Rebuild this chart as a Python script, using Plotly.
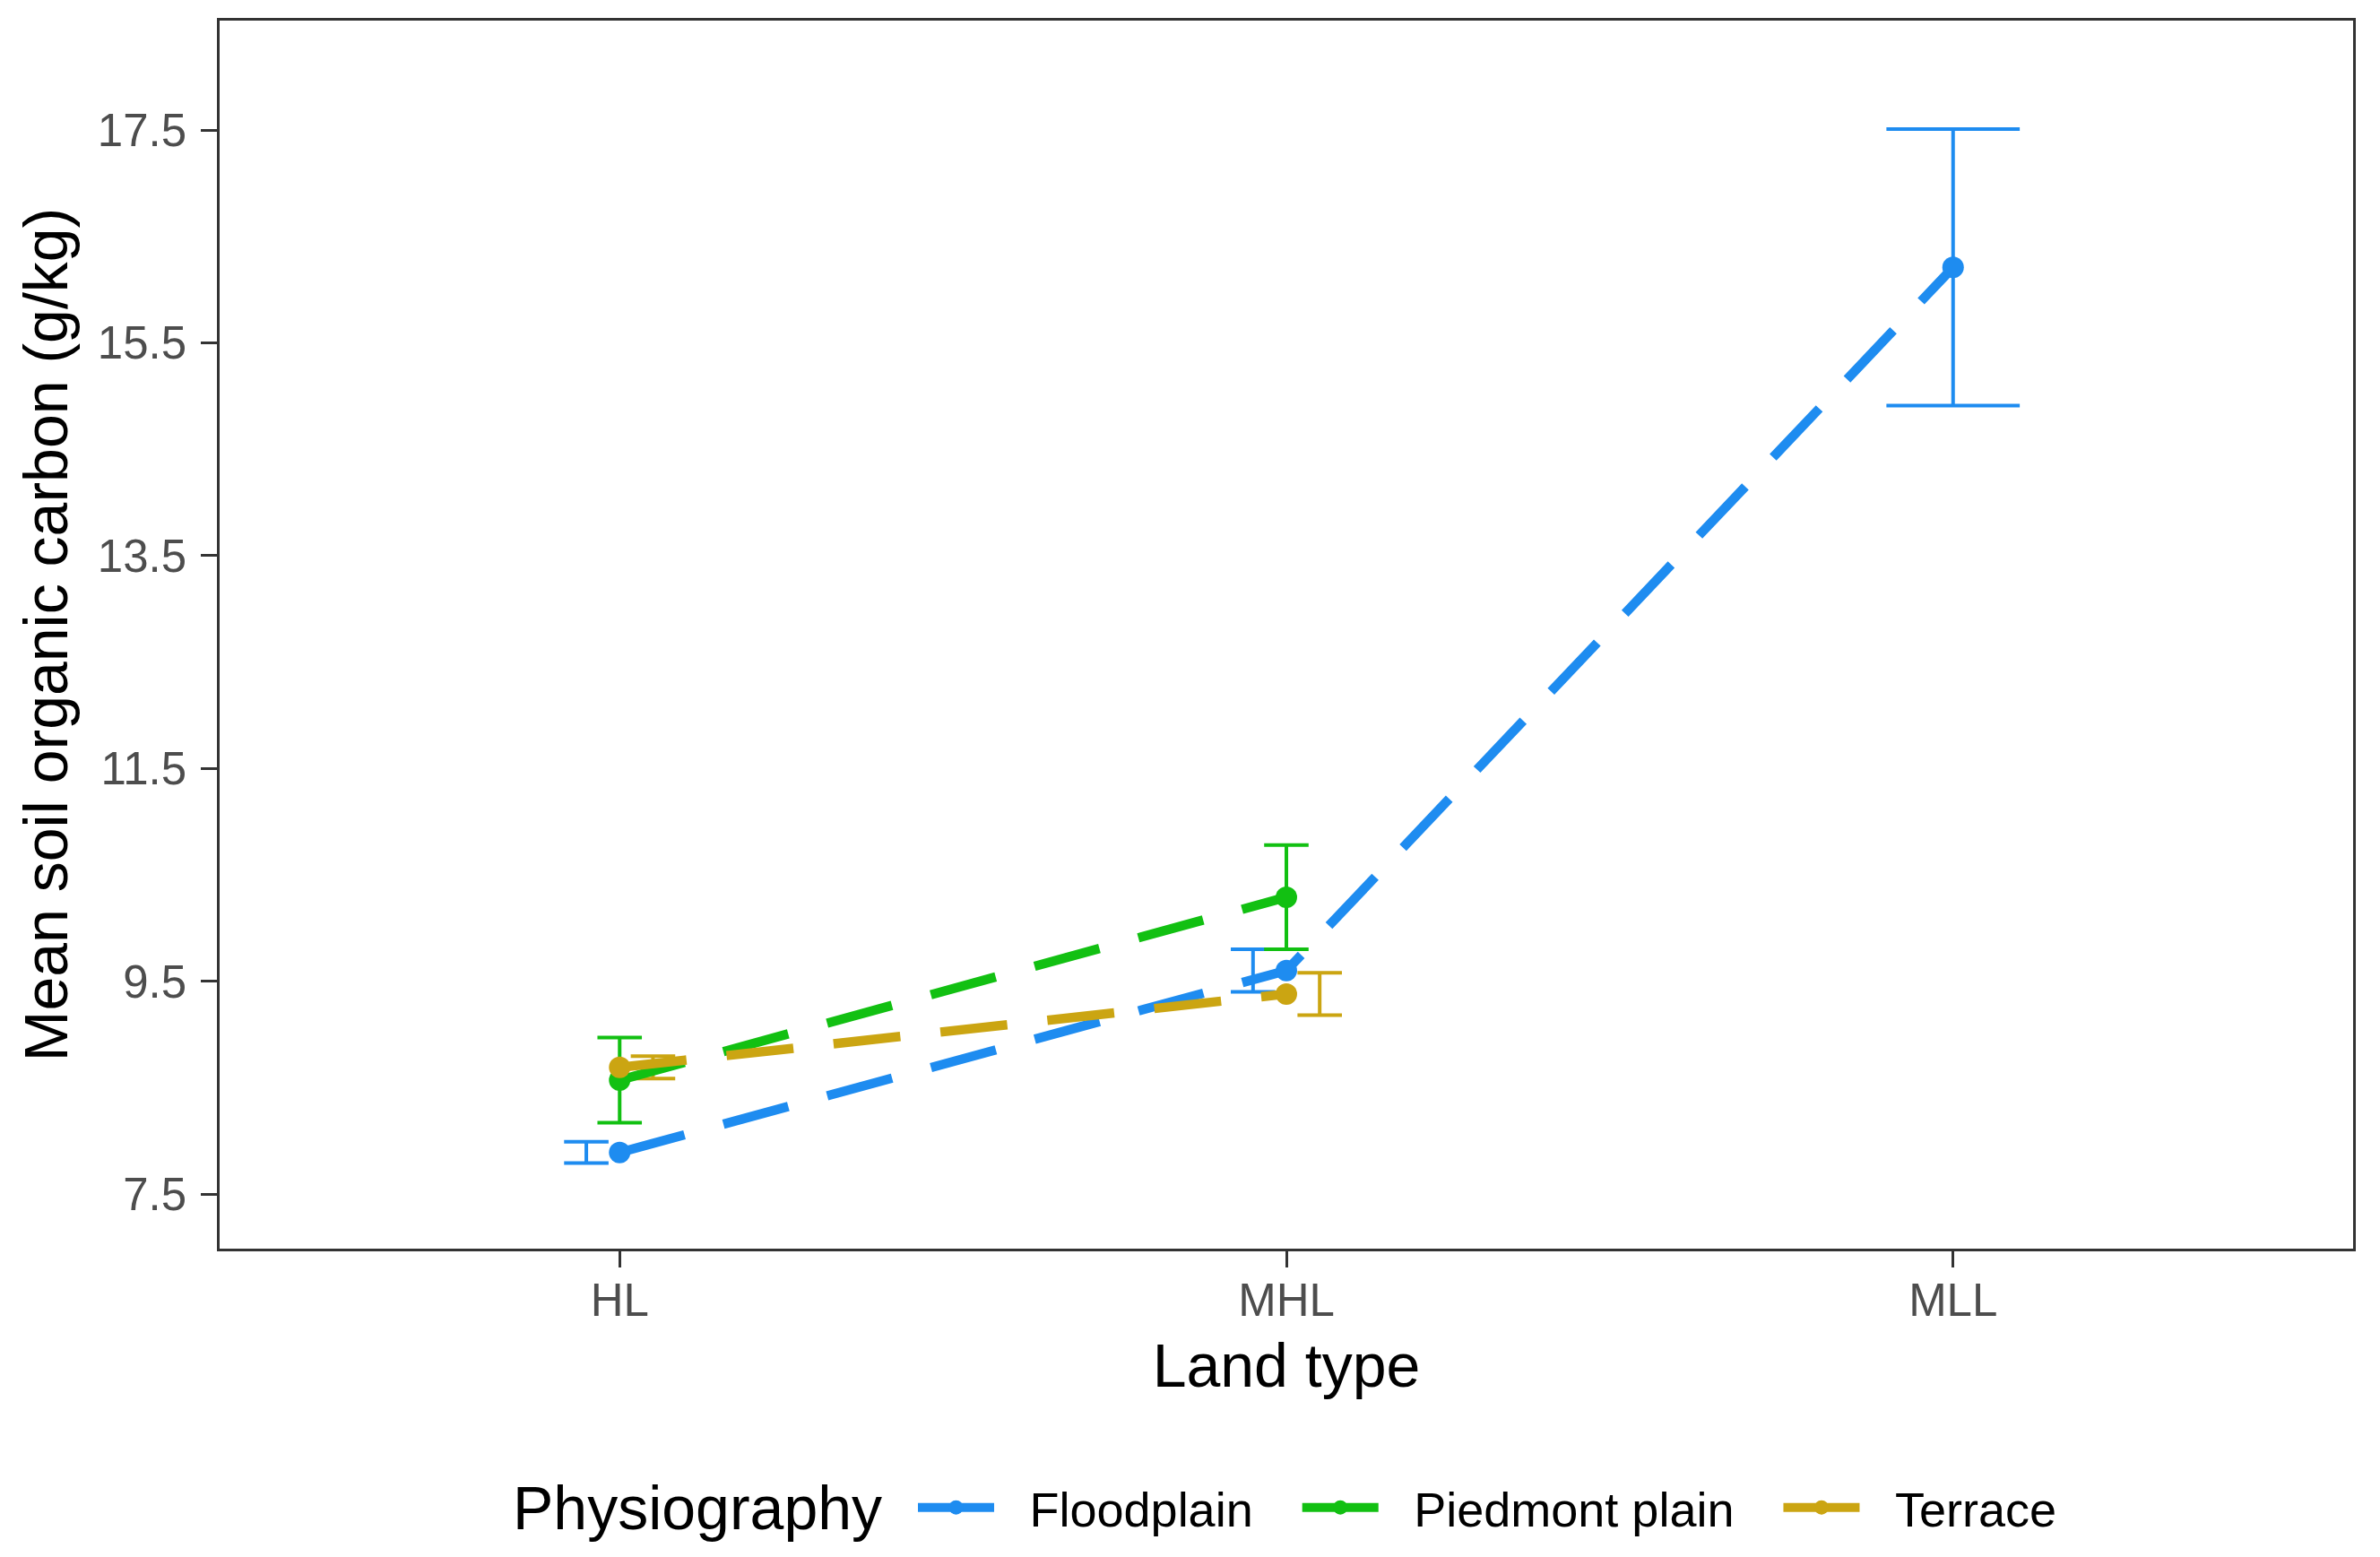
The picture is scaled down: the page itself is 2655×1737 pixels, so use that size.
import plotly.graph_objects as go

# ---- data ----
land_types = ["HL", "MHL", "MLL"]

floodplain_land = ["HL", "MHL", "MLL"]
floodplain_mean = [7.89, 9.60, 16.21]
floodplain_se = [0.10, 0.20, 1.30]

piedmont_land = ["HL", "MHL"]
piedmont_mean = [8.57, 10.29]
piedmont_se = [0.40, 0.49]

terrace_land = ["HL", "MHL"]
terrace_mean = [8.69, 9.38]
terrace_se = [0.105, 0.20]

y_ticks = [7.5, 9.5, 11.5, 13.5, 15.5, 17.5]
y_tick_labels = ["7.5", "9.5", "11.5", "13.5", "15.5", "17.5"]

series_names = ["Floodplain", "Piedmont plain", "Terrace"]
series_colors = ["#1E8CF0", "#12C012", "#CBA512"]
legend_title = "Physiography"

series = [
    (series_names[0], floodplain_land, floodplain_mean, floodplain_se, series_colors[0]),
    (series_names[1], piedmont_land, piedmont_mean, piedmont_se, series_colors[1]),
    (series_names[2], terrace_land, terrace_mean, terrace_se, series_colors[2]),
]

FONT = "Liberation Sans, Arial, sans-serif"
W, H = 2655, 1737
ML, MR, MT, MB = 237, 38, 15, 352
XR = [0.4, 3.6]
YR = [6.986, 18.53]
px_per_unit = (W - ML - MR) / (XR[1] - XR[0])
NB = "\u00a0"

pos = {lt: i + 1 for i, lt in enumerate(land_types)}

fig = go.Figure()

# error bars, dodged like ggplot (dodge width 0.15, errorbar width 0.2)
dodge_w = 0.15
eb_w = 0.2
for lt in land_types:
    present = [s for s in series if lt in s[1]]
    n = len(present)
    for i, (name, lands, means, ses, col) in enumerate(present):
        k = lands.index(lt)
        off = (i - (n - 1) / 2) * dodge_w / n
        half_px = 0.5 * eb_w / n * px_per_unit
        fig.add_trace(go.Scatter(
            x=[pos[lt] + off], y=[means[k]], mode="markers",
            marker=dict(size=0.1, color="rgba(0,0,0,0)"),
            error_y=dict(type="data", array=[ses[k]], visible=True,
                         color=col, thickness=4, width=half_px),
            showlegend=False, hoverinfo="skip"))

# dashed lines
for name, lands, means, ses, col in series:
    fig.add_trace(go.Scatter(
        x=[pos[l] for l in lands], y=means, mode="lines",
        line=dict(color=col, width=10.5, dash="75px,45px"),
        showlegend=False, hoverinfo="skip"))

# points on top
for name, lands, means, ses, col in series:
    fig.add_trace(go.Scatter(
        x=[pos[l] for l in lands], y=means, mode="markers", name=name,
        marker=dict(color=col, size=24), showlegend=False))

# legend keys (solid line + point, like the ggplot key)
for name, lands, means, ses, col in series:
    fig.add_trace(go.Scatter(
        x=[None], y=[None], mode="lines+markers",
        name=NB * 2 + "\u200a" + name + NB * 3,
        line=dict(color=col, width=10.5),
        marker=dict(color=col, size=24), hoverinfo="skip"))

plot_w = W - ML - MR
fig.update_layout(
    width=W, height=H,
    margin=dict(l=ML, r=MR, t=MT, b=MB),
    paper_bgcolor="white", plot_bgcolor="white",
    font=dict(family=FONT, color="black"),
    showlegend=True,
    legend=dict(
        orientation="h", x=(1026 - 244 - 8) / plot_w, xanchor="left",
        y=-0.211, yanchor="middle",
        font=dict(size=54, family=FONT, color="black"),
        itemwidth=85, bgcolor="rgba(0,0,0,0)",
    ),
    annotations=[dict(
        text=legend_title, xref="paper", yref="paper",
        x=(569 - 244) / plot_w, xanchor="left", y=-0.211, yanchor="middle",
        showarrow=False, font=dict(size=68, family=FONT, color="black"),
    )],
)

fig.update_xaxes(
    range=XR, tickmode="array", tickvals=[pos[l] for l in land_types], ticktext=land_types,
    showgrid=False, zeroline=False,
    showline=True, mirror=True, linecolor="#333333", linewidth=2.5,
    ticks="outside", ticklen=18, tickwidth=2.5, tickcolor="#333333",
    tickfont=dict(size=51, color="#4D4D4D", family=FONT), ticklabelstandoff=-7,
    title=dict(text="Land type", font=dict(size=68, color="black", family=FONT), standoff=22),
    automargin=False,
)
fig.update_yaxes(
    range=YR, tickmode="array", tickvals=y_ticks, ticktext=y_tick_labels,
    showgrid=False, zeroline=False,
    showline=True, mirror=True, linecolor="#333333", linewidth=2.5,
    ticks="outside", ticklen=18, tickwidth=2.5, tickcolor="#333333",
    tickfont=dict(size=51, color="#4D4D4D", family=FONT), ticklabelstandoff=6,
    title=dict(text="Mean soil organic carbon (g/kg)", font=dict(size=68, color="black", family=FONT), standoff=11),
    automargin=False,
)

fig.write_html("out.html")
